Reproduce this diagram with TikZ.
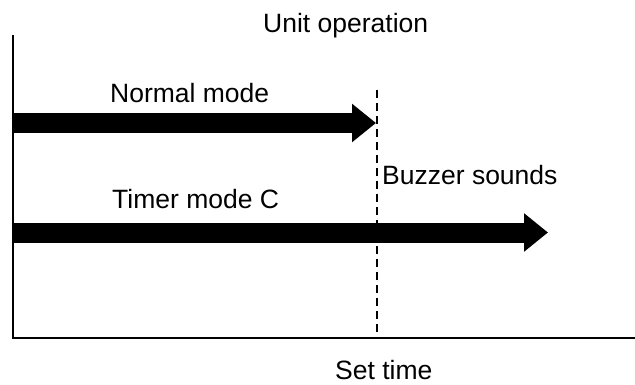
\documentclass[tikz,border=0pt]{standalone}
\usepackage{fontspec}
\setmainfont{Liberation Sans}
\usetikzlibrary{arrows.meta}
\tikzset{
  lbl/.style={anchor=base west, inner sep=0pt, font=\fontsize{26.5}{30}\selectfont},
  axisline/.style={line width=2pt, black},
  bigarrow/.style={line width=20pt, -{Triangle[length=24pt,width=37pt]}},
  settime/.style={line width=1.3pt, dash pattern=on 8pt off 5pt}
}
\begin{document}
\begin{tikzpicture}[x=1pt,y=-1pt]
\useasboundingbox (0,0) rectangle (635,385);
% axes
\coordinate (top) at (12.5,35);
\coordinate (origin) at (12.5,338);
\coordinate (right) at (635,338);
\draw[axisline] (top) -- (origin) -- (right);
% set time line
\coordinate (dtop) at (377,90);
\coordinate (dbot) at (377,336);
\draw[settime] (dtop) -- (dbot);
% arrows
\coordinate (a1s) at (12.5,123);
\coordinate (a1e) at (376,123);
\coordinate (a2s) at (12.5,232.5);
\coordinate (a2e) at (548,232.5);
\draw[bigarrow] (a1s) -- (a1e);
\draw[bigarrow] (a2s) -- (a2e);
% labels
\node[lbl] (unitop) at (263,33) {Unit operation};
\node[lbl] (normal) at (110,103) {Normal mode};
\node[lbl] (timer) at (112,208) {Timer mode C};
\node[lbl] (buzzer) at (382,185) {Buzzer sounds};
\node[lbl] (set) at (335,379.5) {Set time};
\end{tikzpicture}
\end{document}
